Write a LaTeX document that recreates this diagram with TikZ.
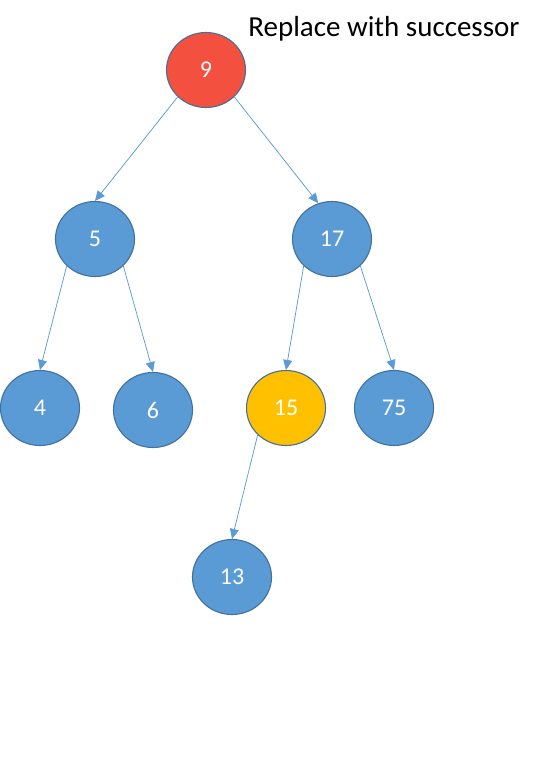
\documentclass[tikz,border=0pt]{standalone}
\usepackage{fontspec}
\setmainfont{Carlito}
\usepackage{xcolor}
\usepackage{tikz}
\usetikzlibrary{shapes.geometric,arrows.meta}

\definecolor{nodeblue}{HTML}{5B9BD5}
\definecolor{nodeedge}{HTML}{41719C}
\definecolor{delred}{HTML}{F4503F}
\definecolor{succyellow}{HTML}{FFC000}

\begin{document}
\begin{tikzpicture}[
x=1pt, y=-1pt,
keynode/.style={ellipse, draw=nodeedge, fill=nodeblue, line width=1.1pt, minimum width=79pt, minimum height=75pt, inner sep=0pt, text=white, font=\fontsize{24}{28}\selectfont},
link/.style={draw=nodeblue, line width=0.75pt, -{Triangle[length=10pt,width=9pt]}}
]
\useasboundingbox (0,0) rectangle (558,784);

\node[keynode, fill=delred](n9) at (206,70){9};
\node[keynode](n5) at (95,239){5};
\node[keynode](n17) at (332,239){17};
\node[keynode](n4) at (40,408){4};
\node[keynode](n6) at (153,410){6};
\node[keynode, fill=succyellow](n15) at (286,408){15};
\node[keynode](n75) at (394,408){75};
\node[keynode](n13) at (232,577){13};

\node[font=\fontsize{29}{34}\selectfont](title) at (384,29){Replace with successor};

\draw[link] (n9.south west) -- (n5.north);
\draw[link] (n9.south east) -- (n17.111);
\draw[link] (n5.south west) -- (n4.north);
\draw[link] (n5.south east) -- (n6.north);
\draw[link] (n17.south west) -- (n15.north);
\draw[link] (n17.south east) -- (n75.north);
\draw[link] (n15.south west) -- (n13.north);

\end{tikzpicture}
\end{document}
